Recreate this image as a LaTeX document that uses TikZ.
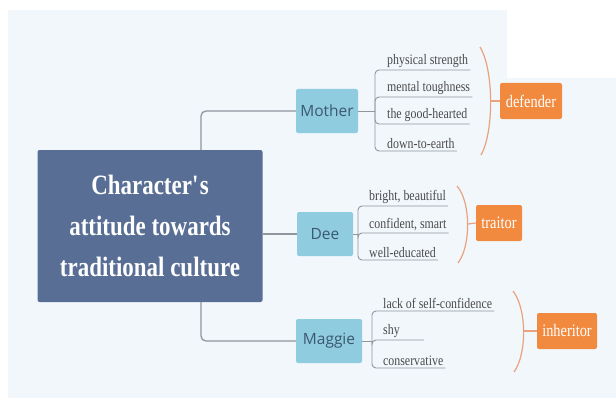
\documentclass[tikz,border=0pt]{standalone}
\usepackage{fontspec}
\setmainfont{Liberation Serif}
\newfontfamily\topicfont{Open Sans}
\newfontfamily\narrowfont[FakeStretch=0.82]{Liberation Serif}
\usetikzlibrary{positioning}

\definecolor{paper}{HTML}{F2F7FC}
\definecolor{hubblue}{HTML}{586E95}
\definecolor{skyblue}{HTML}{90CCE0}
\definecolor{topicink}{HTML}{3B5870}
\definecolor{roleorange}{HTML}{F18A3E}
\definecolor{bracecol}{HTML}{E9A27E}
\definecolor{linkgrey}{HTML}{8F969E}
\definecolor{itemink}{HTML}{4A4A4A}

\begin{document}
\begin{tikzpicture}[
  x=1pt,y=-1pt,
  hub/.style={fill=hubblue,rounded corners=2pt,text=white,font=\narrowfont\bfseries\fontsize{28}{41}\selectfont,
    minimum width=225pt,minimum height=152pt,align=center},
  topic/.style={fill=skyblue,rounded corners=2pt,text=topicink,font=\topicfont\fontsize{15.5}{18}\selectfont,
    minimum height=44pt,inner xsep=0pt},
  item/.style={anchor=south west,text=itemink,font=\narrowfont\fontsize{14.5}{16}\selectfont,inner xsep=2pt,inner ysep=2.5pt},
  role/.style={fill=roleorange,rounded corners=2pt,text=white,font=\narrowfont\fontsize{17.5}{20}\selectfont,
    minimum height=36pt,inner xsep=0pt},
  link/.style={draw=linkgrey,line width=1.3pt,rounded corners=5pt},
  uline/.style={draw=linkgrey,line width=0.9pt,rounded corners=4pt},
  brace/.style={draw=bracecol,line width=1.2pt}]

  % backdrop
  \fill[white] (0,0) rectangle (616,404);
  \fill[paper] (8,10) rectangle (616,398);
  \fill[white] (507,0) rectangle (616,78);

  % central topic and the three characters
  \node[hub] (hub) at (150,226) {Character\textquotesingle s\\attitude towards\\traditional culture};
  \node[topic,minimum width=62pt] (mother) at (327,111) {Mother};
  \node[topic,minimum width=56pt] (dee) at (325,234) {Dee};
  \node[topic,minimum width=66pt] (maggie) at (329,341) {Maggie};

  \draw[link] ([xshift=51pt]hub.north) |- (mother.west);
  \draw[link] (hub.east |- dee) -- (dee.west);
  \draw[link] ([xshift=51pt]hub.south) |- (maggie.west);

  % Mother
  \coordinate (mj) at (375,111);
  \node[item] (m1) at (385,70) {physical strength};
  \node[item] (m2) at (385,97) {mental toughness};
  \node[item] (m3) at (385,124) {the good-hearted};
  \node[item] (m4) at (385,151) {down-to-earth};
  \draw[link,line width=0.9pt] (mother.east) -- (mj);
  \draw[uline] (mj) |- (m1.south east);
  \draw[uline] (mj) |- (m2.south east);
  \draw[uline] (mj) |- (m3.south east);
  \draw[uline] (mj) |- (m4.south east);
  \draw[brace] (480,47) .. controls (494,70) and (494,132) .. (481,155);
  \node[role,minimum width=62pt] (defender) at (531,101) {defender};
  \draw[brace] (491,101) -- (defender.west);

  % Dee
  \coordinate (dj) at (358,234);
  \node[item] (d1) at (367,206) {bright, beautiful};
  \node[item] (d2) at (367,233) {confident, smart};
  \node[item] (d3) at (367,260) {well-educated};
  \draw[link,line width=0.9pt] (dee.east) -- (dj);
  \draw[uline] (dj) |- (d1.south east);
  \draw[uline] (dj) |- (d2.south east);
  \draw[uline] (dj) |- (d3.south east);
  \draw[brace] (457,186) .. controls (471,202) and (471,246) .. (458,263);
  \node[role,minimum width=46pt] (traitor) at (499,223) {traitor};
  \draw[brace] (468,224) -- (traitor.west);

  % Maggie
  \coordinate (gj) at (372,341);
  \node[item] (g1) at (381,311) {lack of self-confidence};
  \node[item] (g2) at (381,340) {shy};
  \node[item] (g3) at (381,368) {conservative};
  \draw[link,line width=0.9pt] (maggie.east) -- (gj);
  \draw[uline] (gj) |- (g1.south east);
  \draw[uline] (gj) |- ([xshift=22pt]g2.south east);
  \draw[uline] (gj) |- (g3.south east);
  \draw[brace] (513,291) .. controls (527,309) and (527,354) .. (514,372);
  \node[role,minimum width=60pt] (inheritor) at (567,331) {inheritor};
  \draw[brace] (524,331) -- (inheritor.west);
\end{tikzpicture}
\end{document}
